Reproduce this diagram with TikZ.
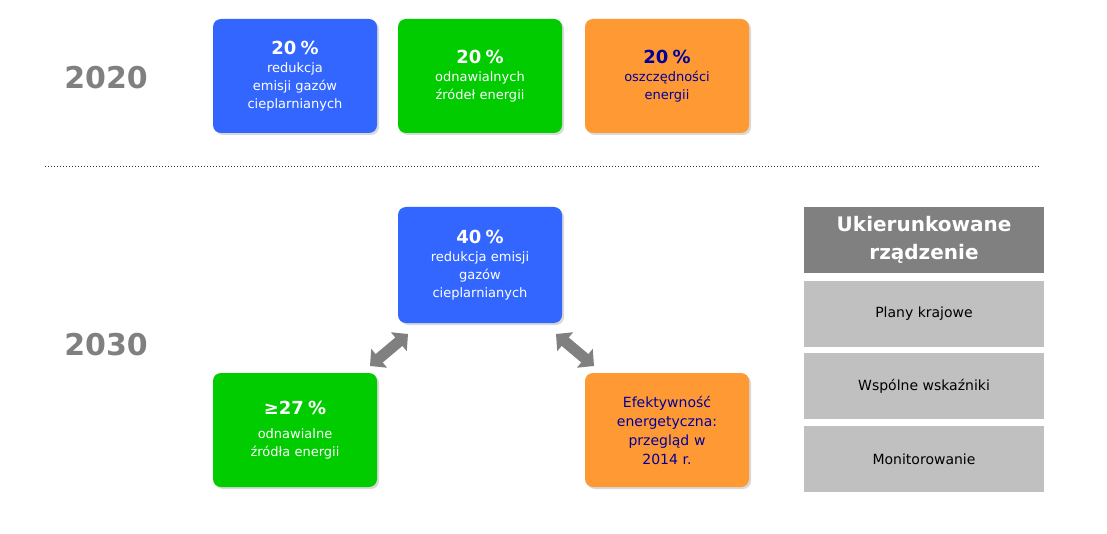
\documentclass[tikz,border=0pt]{standalone}
\usepackage{fontspec}
\setmainfont{DejaVu Sans}
\usetikzlibrary{shadows,arrows.meta}
\definecolor{boxblue}{HTML}{3366FF}
\definecolor{boxgreen}{HTML}{00CC00}
\definecolor{boxorange}{HTML}{FF9933}
\definecolor{navy}{HTML}{000099}
\definecolor{yeargray}{HTML}{808080}
\definecolor{lightgray}{HTML}{C0C0C0}
\tikzset{
  goal/.style={rounded corners=8pt, minimum width=164pt, minimum height=114pt,
    align=center, font=\fontsize{13}{18}\selectfont, text width=150pt,
    drop shadow={opacity=0.3,shadow xshift=2pt,shadow yshift=-2pt}},
  year/.style={font=\fontsize{30}{30}\selectfont\bfseries, text=yeargray},
  govbox/.style={fill=lightgray, minimum width=240pt, minimum height=66pt,
    font=\fontsize{14}{18}\selectfont},
  swap/.style={yeargray, line width=11pt, {Triangle[length=12pt,width=24pt]}-{Triangle[length=12pt,width=24pt]}}
}
\begin{document}
\begin{tikzpicture}[x=1pt,y=-1pt]
\useasboundingbox (0,0) rectangle (1107,534);
% 2020
\node[year] (y20) at (106,78) {2020};
\node[goal, fill=boxblue, text=white] (b20) at (295,76) {{\fontsize{18}{22}\selectfont\bfseries 20 \%}\\redukcja\\emisji gazów\\cieplarnianych};
\node[goal, fill=boxgreen, text=white] (g20) at (480,76) {{\fontsize{18}{22}\selectfont\bfseries 20 \%}\\odnawialnych\\źródeł energii};
\node[goal, fill=boxorange, text=navy] (o20) at (667,76) {{\fontsize{18}{22}\selectfont\bfseries 20 \%}\\oszczędności\\energii};
\draw[dotted, line width=1pt, black!80] (45,167) -- (1040,167);
% 2030
\node[year] (y30) at (106,345) {2030};
\node[goal, fill=boxblue, text=white, minimum height=116pt] (b30) at (480,265) {{\fontsize{18}{22}\selectfont\bfseries 40 \%}\\redukcja emisji\\gazów\\cieplarnianych};
\node[goal, fill=boxgreen, text=white] (g30) at (295,430) {{\fontsize{18}{22}\selectfont\bfseries ≥27 \%}\\[6pt]odnawialne\\źródła energii};
\node[goal, fill=boxorange, text=navy, font=\fontsize{14}{19}\selectfont] (o30) at (667,430) {Efektywność\\energetyczna:\\przegląd w\\2014 r.};
\coordinate (l1) at (370,366);
\coordinate (l2) at (408,334);
\coordinate (r1) at (556,334);
\coordinate (r2) at (594,366);
\draw[swap] (l1) -- (l2);
\draw[swap] (r1) -- (r2);
% governance
\node[fill=yeargray, text=white, minimum width=240pt, minimum height=66pt, align=center,
  font=\fontsize{20}{28}\selectfont\bfseries] (gov) at (924,240) {Ukierunkowane\\rządzenie};
\node[govbox] (plany) at (924,314) {Plany krajowe};
\node[govbox] (wsk) at (924,386) {Wspólne wskaźniki};
\node[govbox] (mon) at (924,459) {Monitorowanie};
\end{tikzpicture}
\end{document}
